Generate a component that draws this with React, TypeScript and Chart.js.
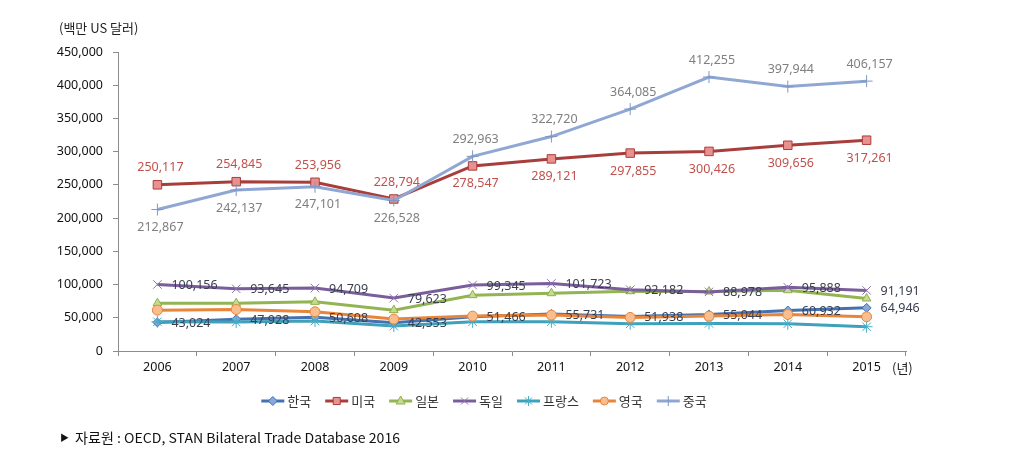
import React, { useEffect, useRef } from "react";
import { Chart, registerables } from "chart.js";

Chart.register(...registerables);

const years = ["2006", "2007", "2008", "2009", "2010", "2011", "2012", "2013", "2014", "2015"];
const seriesNames = ["한국", "미국", "일본", "독일", "프랑스", "영국", "중국"];
const korea = [43024, 47928, 50608, 42553, 51466, 55731, 51938, 55044, 60932, 64946];
const usa = [250117, 254845, 253956, 228794, 278547, 289121, 297855, 300426, 309656, 317261];
const japan = [72000, 72000, 74000, 61500, 84000, 87000, 90000, 89500, 91500, 79000];
const germany = [100156, 93645, 94709, 79623, 99345, 101723, 92182, 88978, 95888, 91191];
const france = [44000, 43500, 45000, 37500, 44000, 44000, 41000, 41500, 41000, 36500];
const uk = [61500, 62500, 59000, 48000, 52500, 54000, 50500, 52500, 55000, 51500];
const china = [212867, 242137, 247101, 226528, 292963, 322720, 364085, 412255, 397944, 406157];

const yTicksMax = 450000;
const yTickStep = 50000;

// label placement per point for labelled series
const usaLabelPos = ["above", "above", "above", "above", "below", "below", "below", "below", "below", "below"];
const chinaLabelPos = ["below", "below", "below", "below", "above", "above", "above", "above", "above", "above"];

const FONT_NUM = "'Noto Sans', 'Noto Sans CJK KR', sans-serif";
const FONT_KR = "'Noto Sans CJK KR', 'Noto Sans', sans-serif";

type Style = {
  line: string;
  fill: string;
  border: string;
  point: string;
  radius: number;
};

const styles: Style[] = [
  { line: "#4472B0", fill: "#86A8DC", border: "#4472B0", point: "rectRot", radius: 4.5 },
  { line: "#A83E3B", fill: "#E8918E", border: "#A83E3B", point: "rect", radius: 6 },
  { line: "#93B452", fill: "#C6DB8F", border: "#8FB050", point: "triangle", radius: 5 },
  { line: "#7A5E9C", fill: "#8E75B0", border: "#8E75B0", point: "crossRot", radius: 6 },
  { line: "#3FA0BB", fill: "#4BACC6", border: "#4BACC6", point: "star", radius: 6 },
  { line: "#E8853A", fill: "#F9BE8E", border: "#E8853A", point: "circle", radius: 5 },
  { line: "#90A7D4", fill: "#90A7D4", border: "#7F97C6", point: "cross", radius: 6 },
];

const allData = [korea, usa, japan, germany, france, uk, china];

const fmt = (v: number) => v.toLocaleString("en-US");

function drawMarker(ctx: CanvasRenderingContext2D, s: Style, x: number, y: number, r: number) {
  ctx.save();
  ctx.fillStyle = s.fill;
  ctx.strokeStyle = s.border;
  ctx.lineWidth = 1;
  ctx.beginPath();
  switch (s.point) {
    case "rectRot":
      ctx.moveTo(x, y - r);
      ctx.lineTo(x + r, y);
      ctx.lineTo(x, y + r);
      ctx.lineTo(x - r, y);
      ctx.closePath();
      ctx.fill();
      ctx.stroke();
      break;
    case "rect": {
      const h = r * Math.SQRT1_2;
      ctx.rect(x - h, y - h, 2 * h, 2 * h);
      ctx.fill();
      ctx.stroke();
      break;
    }
    case "triangle":
      ctx.moveTo(x, y - r);
      ctx.lineTo(x + r * 0.9, y + r * 0.6);
      ctx.lineTo(x - r * 0.9, y + r * 0.6);
      ctx.closePath();
      ctx.fill();
      ctx.stroke();
      break;
    case "circle":
      ctx.arc(x, y, r * 0.8, 0, Math.PI * 2);
      ctx.fill();
      ctx.stroke();
      break;
    case "crossRot": {
      const h = r * Math.SQRT1_2;
      ctx.moveTo(x - h, y - h);
      ctx.lineTo(x + h, y + h);
      ctx.moveTo(x + h, y - h);
      ctx.lineTo(x - h, y + h);
      ctx.stroke();
      break;
    }
    case "star": {
      const h = r * Math.SQRT1_2;
      ctx.moveTo(x - h, y - h);
      ctx.lineTo(x + h, y + h);
      ctx.moveTo(x + h, y - h);
      ctx.lineTo(x - h, y + h);
      ctx.moveTo(x, y - r);
      ctx.lineTo(x, y + r);
      ctx.stroke();
      break;
    }
    case "cross":
      ctx.moveTo(x, y - r);
      ctx.lineTo(x, y + r);
      ctx.stroke();
      break;
  }
  ctx.restore();
}

const overlayPlugin = {
  id: "overlay",
  afterDatasetsDraw(chart: any) {
    const ctx = chart.ctx as CanvasRenderingContext2D;
    ctx.save();
    ctx.font = `12.5px ${FONT_NUM}`;
    ctx.textBaseline = "middle";

    const drawSet = (idx: number, values: number[], color: string, pos: (j: number) => string) => {
      const meta = chart.getDatasetMeta(idx);
      ctx.fillStyle = color;
      meta.data.forEach((pt: any, j: number) => {
        const p = pos(j);
        const t = fmt(values[j]);
        if (p === "right") {
          ctx.textAlign = "left";
          ctx.fillText(t, pt.x + 14, pt.y + 1);
        } else if (p === "above") {
          ctx.textAlign = "center";
          ctx.fillText(t, pt.x + 3, pt.y - 17);
        } else {
          ctx.textAlign = "center";
          ctx.fillText(t, pt.x + 3, pt.y + 18);
        }
      });
    };

    drawSet(0, korea, "#3A3F50", () => "right");
    drawSet(3, germany, "#3A3F50", () => "right");
    drawSet(1, usa, "#C2504C", (j) => usaLabelPos[j]);
    drawSet(6, china, "#7F7F7F", (j) => chinaLabelPos[j]);
    ctx.restore();
  },
  afterDraw(chart: any) {
    const ctx = chart.ctx as CanvasRenderingContext2D;
    const area = chart.chartArea;
    ctx.save();
    // axis titles
    ctx.fillStyle = "#222";
    ctx.textBaseline = "middle";
    ctx.textAlign = "left";
    ctx.font = `13px ${FONT_KR}`;
    ctx.fillText("(백만 US 달러)", 59, 28);
    ctx.fillText("(년)", area.right - 14, 368);

    // legend
    ctx.font = `13px ${FONT_KR}`;
    const lineLen = 23;
    const gapText = 3;
    const gapItem = 14;
    const widths = seriesNames.map((n) => lineLen + gapText + ctx.measureText(n).width);
    const total = widths.reduce((a, b) => a + b, 0) + gapItem * (seriesNames.length - 1);
    let x = 484 - total / 2;
    const ly = 401;
    seriesNames.forEach((name, i) => {
      const s = styles[i];
      ctx.strokeStyle = s.line;
      ctx.lineWidth = 3;
      ctx.beginPath();
      ctx.moveTo(x, ly);
      ctx.lineTo(x + lineLen, ly);
      ctx.stroke();
      drawMarker(ctx, s, x + lineLen / 2, ly, Math.min(s.radius, 5));
      ctx.fillStyle = "#333";
      ctx.textAlign = "left";
      ctx.fillText(name, x + lineLen + gapText, ly);
      x += widths[i] + gapItem;
    });

    // source
    ctx.fillStyle = "#111";
    ctx.textAlign = "left";
    ctx.font = `9px ${FONT_KR}`;
    ctx.fillText("▶", 60, 438);
    ctx.font = `13.5px ${FONT_KR}`;
    const src = "자료원 : OECD, STAN Bilateral Trade Database 2016";
    const w = ctx.measureText(src).width;
    const target = 325;
    ctx.translate(75, 438);
    ctx.scale(target / w, 1);
    ctx.fillText(src, 0, 0);
    ctx.restore();
  },
};

export default function App() {
  const ref = useRef<HTMLCanvasElement | null>(null);
  useEffect(() => {
    if (!ref.current) return;
    const datasets = allData.map((d, i) => ({
      label: seriesNames[i],
      data: d,
      borderColor: styles[i].line,
      backgroundColor: styles[i].fill,
      pointBackgroundColor: styles[i].fill,
      pointBorderColor: styles[i].border,
      pointBorderWidth: 1,
      pointStyle: styles[i].point as any,
      pointRadius: styles[i].radius,
      borderWidth: 3,
      tension: 0,
      fill: false,
      order: allData.length - i,
    }));
    const chart = new Chart(ref.current, {
      type: "line",
      data: { labels: years, datasets },
      options: {
        animation: false,
        responsive: false,
        maintainAspectRatio: false,
        layout: { padding: { left: 0, right: 122, top: 52, bottom: 0 } },
        plugins: { legend: { display: false }, tooltip: { enabled: false } },
        scales: {
          x: {
            offset: true,
            grid: {
              display: true,
              offset: true,
              drawOnChartArea: false,
              drawTicks: true,
              tickLength: 5,
              color: "#8C8C8C",
            },
            border: { display: true, color: "#8C8C8C", width: 1 },
            ticks: { color: "#111", font: { family: FONT_NUM, size: 12.5 }, padding: 4, maxRotation: 0 },
            afterFit: (s: any) => {
              s.height = 473 - 351;
            },
          },
          y: {
            min: 0,
            max: yTicksMax,
            grid: {
              display: true,
              drawOnChartArea: false,
              drawTicks: true,
              tickLength: 5,
              color: "#8C8C8C",
            },
            border: { display: true, color: "#8C8C8C", width: 1 },
            ticks: {
              stepSize: yTickStep,
              color: "#111",
              padding: 10,
              font: { family: FONT_NUM, size: 12.5 },
              callback: (v: any) => fmt(Number(v)),
            },
            afterFit: (s: any) => {
              s.width = 118;
            },
          },
        },
      },
      plugins: [overlayPlugin],
    });
    return () => chart.destroy();
  }, []);
  return (
    <div style={{ position: "fixed", left: 0, top: 0, width: 1028, height: 473, background: "#fff" }}>
      <canvas ref={ref} width={1028} height={473} style={{ width: 1028, height: 473, display: "block" }} />
    </div>
  );
}
